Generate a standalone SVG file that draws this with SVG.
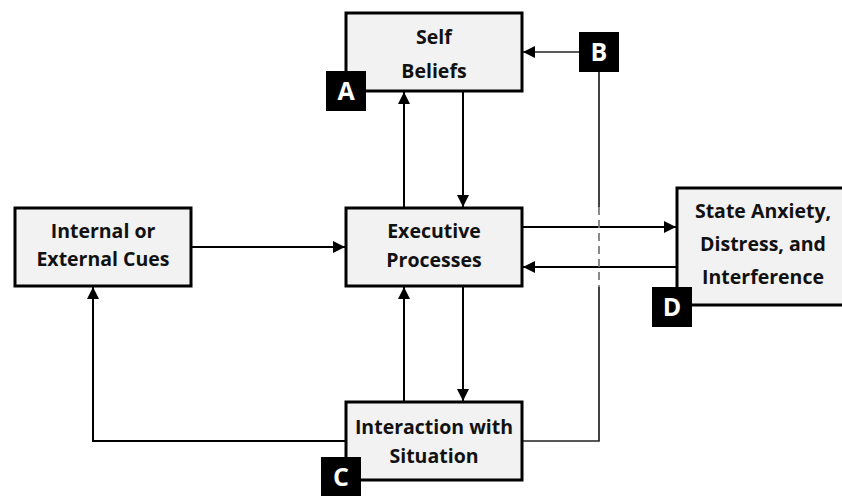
<svg xmlns="http://www.w3.org/2000/svg" width="842" height="496" viewBox="0 0 842 496">
<defs>
<style>
.box{fill:#f2f2f2;stroke:#000;stroke-width:3}
.t{font-family:"Open Sans","Liberation Sans",sans-serif;font-weight:bold;font-size:19.5px;fill:#111;text-anchor:middle}
.lb{fill:#000}
.lt{font-family:"Open Sans","Liberation Sans",sans-serif;font-weight:bold;font-size:25px;fill:#fff;text-anchor:middle}
.c{fill:none;stroke:#000;stroke-width:2}
.cs{fill:none;stroke:#222;stroke-width:1.7}
</style>
<marker id="ah" viewBox="0 0 12 12" refX="12" refY="6" markerWidth="12" markerHeight="12" markerUnits="userSpaceOnUse" orient="auto">
<path d="M0,0 L12,6 L0,12 Z" fill="#000"/>
</marker>
</defs>
<rect width="842" height="496" fill="#fff"/>
<g id="connectors">
<line class="c" x1="191" y1="247" x2="345" y2="247" marker-end="url(#ah)"/>
<line class="c" x1="404" y1="208" x2="404" y2="92" marker-end="url(#ah)"/>
<line class="c" x1="463" y1="91" x2="463" y2="207" marker-end="url(#ah)"/>
<line class="c" x1="404" y1="402" x2="404" y2="287" marker-end="url(#ah)"/>
<line class="c" x1="463" y1="286" x2="463" y2="401" marker-end="url(#ah)"/>
<line class="c" x1="522" y1="227" x2="676" y2="227" marker-end="url(#ah)"/>
<line class="c" x1="677" y1="267" x2="523" y2="267" marker-end="url(#ah)"/>
<polyline class="c" points="346,441 93,441 93,287" marker-end="url(#ah)"/>
<line class="cs" x1="579" y1="52" x2="523" y2="52" marker-end="url(#ah)"/>
<polyline class="cs" points="522,441 599,441 599,287"/>
<line class="cs" x1="599" y1="72" x2="599" y2="207"/>
<line x1="599" y1="207" x2="599" y2="287" stroke="#777" stroke-width="1.7" stroke-dasharray="8,5"/>
</g>
<g id="self-beliefs">
<rect class="box" x="346" y="13" width="176" height="78"/>
<text class="t" x="434" y="44">Self</text>
<text class="t" x="434" y="78">Beliefs</text>
</g>
<g id="executive">
<rect class="box" x="346" y="208" width="176" height="78"/>
<text class="t" x="434" y="238">Executive</text>
<text class="t" x="434" y="267">Processes</text>
</g>
<g id="cues">
<rect class="box" x="15" y="208" width="176" height="78"/>
<text class="t" x="103" y="238">Internal or</text>
<text class="t" x="103" y="266">External Cues</text>
</g>
<g id="interaction">
<rect class="box" x="346" y="402" width="176" height="78"/>
<text class="t" x="434" y="434">Interaction with</text>
<text class="t" x="434" y="463">Situation</text>
</g>
<g id="state">
<rect class="box" x="677" y="188" width="172" height="117"/>
<text class="t" x="763" y="218">State Anxiety,</text>
<text class="t" x="763" y="251">Distress, and</text>
<text class="t" x="763" y="284">Interference</text>
</g>
<g id="label-a"><rect class="lb" x="326" y="71" width="40" height="40"/><text class="lt" x="346" y="100">A</text></g>
<g id="label-b"><rect class="lb" x="579" y="32" width="40" height="40"/><text class="lt" x="599" y="61">B</text></g>
<g id="label-c"><rect class="lb" x="321" y="457" width="40" height="40"/><text class="lt" x="341" y="486">C</text></g>
<g id="label-d"><rect class="lb" x="652" y="287" width="40" height="40"/><text class="lt" x="672" y="316">D</text></g>
</svg>
